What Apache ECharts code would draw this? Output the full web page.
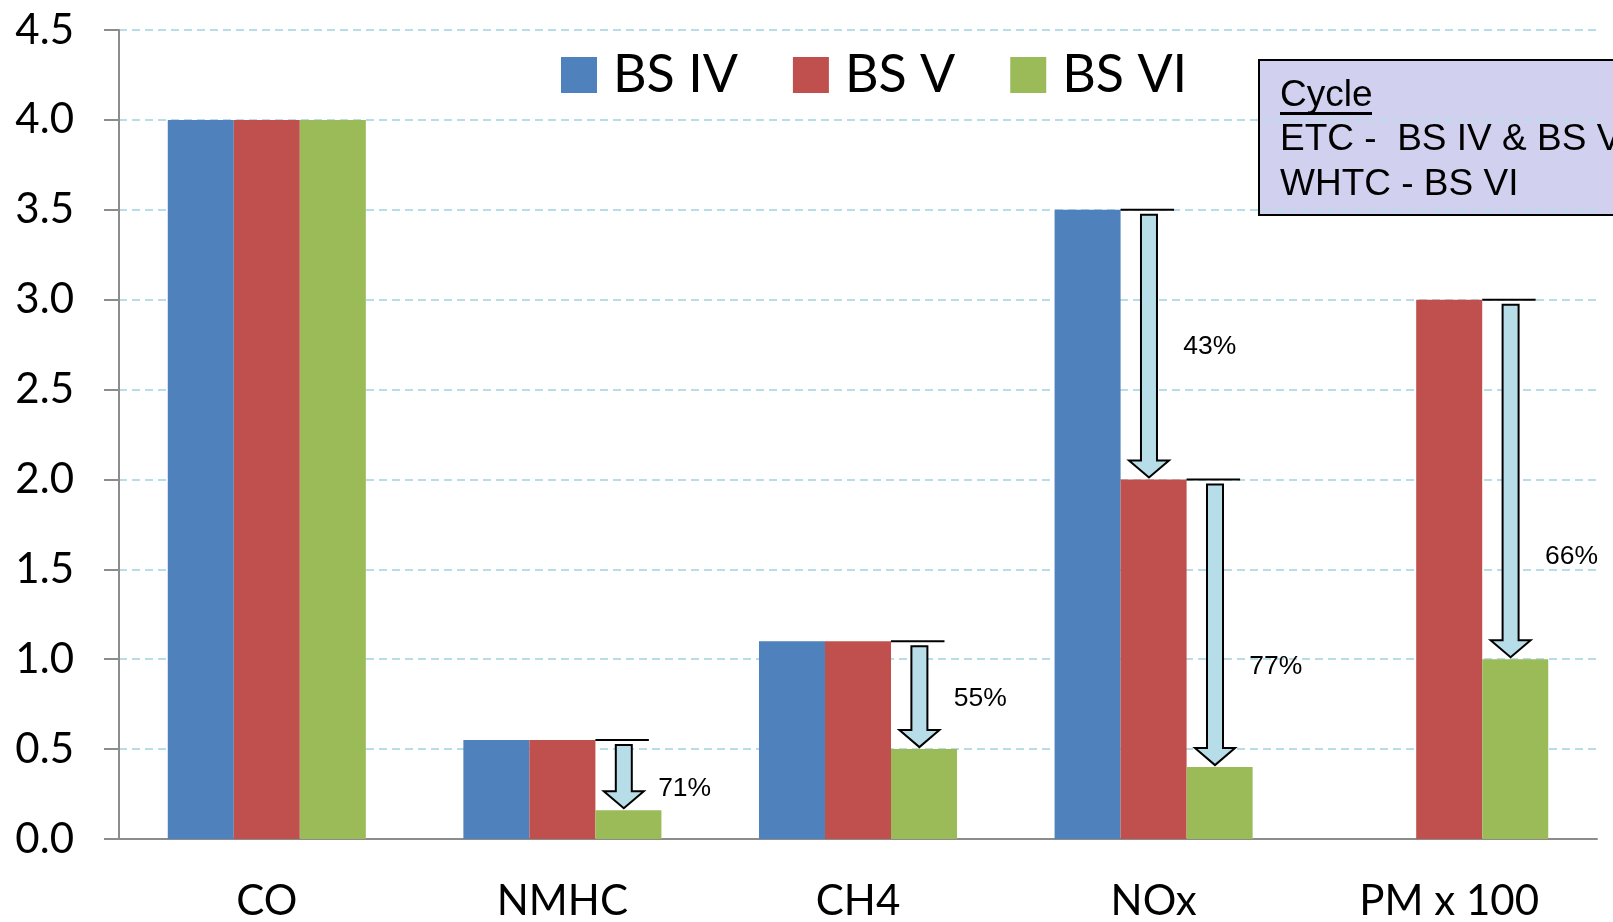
<!DOCTYPE html>
<html>
<head>
<meta charset="utf-8">
<title>BS IV / BS V / BS VI limits</title>
<script src="https://cdn.jsdelivr.net/npm/echarts@6/dist/echarts.min.js"></script>
<style>
  html, body { margin: 0; padding: 0; background: #fff; }
  #chart { width: 1613px; height: 922px; }
</style>
</head>
<body>
<div id="chart"></div>
<script>
// data
const categories = ['CO', 'NMHC', 'CH4', 'NOx', 'PM x 100']
const bs4 = [4.0, 0.55, 1.1, 3.5, null]
const bs5 = [4.0, 0.55, 1.1, 2.0, 3.0]
const bs6 = [4.0, 0.16, 0.5, 0.4, 1.0]

// reduction arrows: category, from, to, bar slot (0..2), label text, label height
const arrowCat = [1, 2, 3, 3, 4]
const arrowFrom = [0.55, 1.1, 3.5, 2.0, 3.0]
const arrowTo = [0.16, 0.5, 2.0, 0.4, 1.0]
const arrowSlot = [2, 2, 1, 2, 2]
const arrowText = ['71%', '55%', '43%', '77%', '66%']
const arrowLabelAt = [0.28, 0.78, 2.74, 0.96, 1.57]

const colors = ['#4F81BD', '#C0504D', '#9BBB59']
const gapPct = 0.33
const calibriLike = 'Lato, "Open Sans", sans-serif'
const arial = '"Liberation Sans", Arial, sans-serif'

const myChart = echarts.init(document.getElementById('chart'))

const renderArrow = (params, api) => {
  const i = params.dataIndex
  const top = api.coord([api.value(0), api.value(1)])
  const bottom = api.coord([api.value(0), api.value(2)])
  const lab = api.coord([api.value(0), arrowLabelAt[i]])
  const band = api.size([1, 0])[0]
  const barW = band * (1 - gapPct) / 3
  const left = top[0] - 1.5 * barW + arrowSlot[i] * barW
  const cx = left + barW * 0.43
  const y0 = top[1] + 5
  const y1 = bottom[1] - 2
  const sw = 8, hw = 20, hh = 17
  return {
    type: 'group',
    children: [
      {
        type: 'line',
        shape: { x1: left, y1: top[1], x2: left + barW * 0.81, y2: top[1] },
        style: { stroke: '#000', lineWidth: 2 }
      },
      {
        type: 'polygon',
        shape: {
          points: [
            [cx - sw, y0], [cx + sw, y0], [cx + sw, y1 - hh], [cx + hw, y1 - hh],
            [cx, y1], [cx - hw, y1 - hh], [cx - sw, y1 - hh]
          ]
        },
        style: { fill: '#B7DEE8', stroke: '#000', lineWidth: 2 }
      },
      {
        type: 'text',
        x: left + barW * 0.95,
        y: lab[1],
        style: {
          text: arrowText[i],
          fill: '#000',
          font: '26.5px ' + arial,
          verticalAlign: 'middle',
          align: 'left'
        }
      }
    ]
  }
}

const options = {
  animation: false,
  color: colors,
  grid: { left: 119, right: 16, top: 30, bottom: 81 },
  legend: {
    data: ['BS IV', 'BS V', 'BS VI'],
    left: 561,
    top: 49,
    padding: 0,
    icon: 'rect',
    itemWidth: 36,
    itemHeight: 36,
    itemGap: 55,
    textStyle: {
      fontFamily: calibriLike,
      fontSize: 52,
      lineHeight: 52,
      color: '#000',
      padding: [0, 0, 0, 11]
    }
  },
  xAxis: {
    type: 'category',
    data: categories,
    axisLine: { lineStyle: { color: '#8c8c8c', width: 2 } },
    axisTick: { length: 14, interval: 0, lineStyle: { color: '#8c8c8c', width: 2 } },
    axisLabel: { color: '#000', fontFamily: calibriLike, fontSize: 42, margin: 41 }
  },
  yAxis: {
    type: 'value',
    min: 0,
    max: 4.5,
    interval: 0.5,
    axisLine: { show: true, lineStyle: { color: '#8c8c8c', width: 2 } },
    axisTick: { show: true, length: 15, lineStyle: { color: '#8c8c8c', width: 2 } },
    axisLabel: {
      color: '#000', fontFamily: calibriLike, fontSize: 42, margin: 45,
      formatter: v => v.toFixed(1)
    },
    splitLine: { lineStyle: { color: '#B7DEE8', width: 2, type: [8, 5] } }
  },
  series: [
    { name: 'BS IV', type: 'bar', data: bs4, barGap: '0%', barCategoryGap: '33%' },
    { name: 'BS V', type: 'bar', data: bs5, barGap: '0%', barCategoryGap: '33%' },
    { name: 'BS VI', type: 'bar', data: bs6, barGap: '0%', barCategoryGap: '33%' },
    {
      name: 'reduction',
      type: 'custom',
      renderItem: renderArrow,
      data: arrowCat.map((c, k) => [c, arrowFrom[k], arrowTo[k]]),
      encode: { x: 0, y: [1, 2] },
      z: 5,
      silent: true
    }
  ],
  graphic: [
    {
      type: 'group',
      left: 1258,
      top: 59,
      children: [
        {
          type: 'rect',
          shape: { x: 0, y: 0, width: 420, height: 155 },
          style: { fill: '#D1D1EF', stroke: '#000', lineWidth: 2 }
        },
        { type: 'text', x: 21, y: 36, style: { text: 'Cycle', font: '37px ' + arial, fill: '#000', verticalAlign: 'middle' } },
        { type: 'rect', shape: { x: 21, y: 52, width: 92, height: 3 }, style: { fill: '#000' } },
        { type: 'text', x: 21, y: 80, style: { text: 'ETC -  BS IV & BS V', font: '37px ' + arial, fill: '#000', verticalAlign: 'middle' } },
        { type: 'text', x: 21, y: 125, style: { text: 'WHTC - BS VI', font: '37px ' + arial, fill: '#000', verticalAlign: 'middle' } }
      ]
    }
  ]
}

myChart.setOption(options)
window.addEventListener('resize', () => { myChart.resize() })
</script>
</body>
</html>
